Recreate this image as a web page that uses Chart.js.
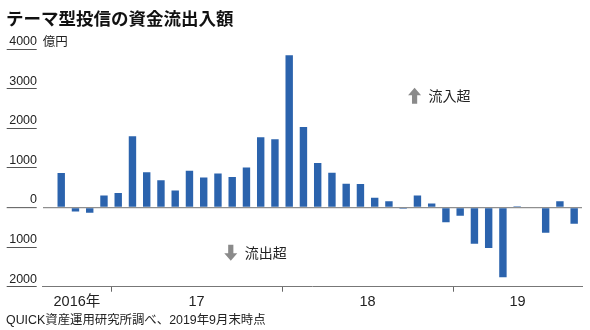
<!DOCTYPE html>
<html><head><meta charset="utf-8">
<script src="https://cdn.jsdelivr.net/npm/chart.js@4.4.1/dist/chart.umd.min.js"></script>
<style>html,body{margin:0;padding:0;background:#fff}#wrap{width:590px;height:330px;position:relative}</style>
</head><body><div id="wrap"><canvas id="c"></canvas></div>
<script>
// ---- data ----
const months = ['2016-09','2016-10','2016-11','2016-12',
  '2017-01','2017-02','2017-03','2017-04','2017-05','2017-06','2017-07','2017-08','2017-09','2017-10','2017-11','2017-12',
  '2018-01','2018-02','2018-03','2018-04','2018-05','2018-06','2018-07','2018-08','2018-09','2018-10','2018-11','2018-12',
  '2019-01','2019-02','2019-03','2019-04','2019-05','2019-06','2019-07','2019-08','2019-09'];
const flows = [870,-100,-130,300,
  365,1800,890,690,430,925,755,860,770,1010,1770,1720,
  3840,2030,1120,875,600,590,245,160,-30,300,100,-370,
  -210,-915,-1020,-1760,30,0,-635,160,-410];
const yearLabels = {'2016':'2016年','2017':'17','2018':'18','2019':'19'};
const yTicks = [-2000,-1000,0,1000,2000,3000,4000];
const titleText = 'テーマ型投信の資金流出入額';
const unitText = '億円';
const sourceText = 'QUICK資産運用研究所調べ、2019年9月末時点';
const inflowText = '流入超';
const outflowText = '流出超';

// ---- derived year ticks ----
const X_MIN = -1.3, X_MAX = 36.55;
const years = months.map(m => m.slice(0,4));
const boundaries = [];
for (let i = 1; i < years.length; i++) if (years[i] !== years[i-1]) boundaries.push(i - 0.5);
const edges = [X_MIN, ...boundaries, X_MAX];
const uniqYears = [...new Set(years)];
const centers = uniqYears.map((yr, k) => ({value: (edges[k] + edges[k+1]) / 2, label: yearLabels[yr]}));
const labelMap = new Map(centers.map(c => [c.value, c.label]));
const boundarySet = new Set(boundaries);

const FAM = "'Liberation Sans Narrow','Liberation Sans','Noto Sans CJK JP',sans-serif";

const notePlugin = {
  id: 'notes',
  afterDatasetsDraw(chart, args, opts) {
    const {ctx, scales: {x, y}} = chart;
    ctx.save();
    opts.items.forEach(n => {
      const px = x.getPixelForValue(n.x), py = y.getPixelForValue(n.y);
      const dir = n.up ? -1 : 1;
      const h = 16, hw = 6.5, sw = 2.6, hh = 7.5;
      const tip = py + dir*h/2, base = py - dir*h/2, neck = tip - dir*hh;
      ctx.beginPath();
      ctx.moveTo(px, tip); ctx.lineTo(px+hw, neck); ctx.lineTo(px+sw, neck); ctx.lineTo(px+sw, base);
      ctx.lineTo(px-sw, base); ctx.lineTo(px-sw, neck); ctx.lineTo(px-hw, neck); ctx.closePath();
      ctx.fillStyle = opts.arrowColor; ctx.fill();
      ctx.fillStyle = opts.color;
      ctx.font = "14px 'Noto Sans CJK JP', sans-serif";
      ctx.textAlign = 'left'; ctx.textBaseline = 'middle';
      ctx.fillText(n.text, px + 14, py);
    });
    ctx.restore();
  }
};

new Chart(document.getElementById('c'), {
  type: 'bar',
  data: {
    datasets: [{
      data: months.map((m, i) => ({x: i, y: flows[i]})),
      backgroundColor: '#2b63ad',
      borderWidth: 0,
      barPercentage: 0.52,
      categoryPercentage: 1
    }]
  },
  options: {
    responsive: true, maintainAspectRatio: false, animation: false,
    layout: {padding: {left: 6, right: 8, top: 0, bottom: 0}},
    plugins: {
      legend: {display: false}, tooltip: {enabled: false},
      title: {display: true, text: titleText, align: 'start', color: '#111',
        font: {family: "'Noto Sans CJK JP',sans-serif", size: 17.5, weight: 'bold'}, padding: {top: 8, bottom: 20}},
      subtitle: {display: true, text: sourceText, position: 'bottom', align: 'start', color: '#222',
        font: {family: FAM, size: 12.4}, padding: {top: 0, bottom: 2}},
      notes: {arrowColor: '#8a8a8a', color: '#222', items: [
        {text: inflowText, up: true, x: 24.8, y: 2820},
        {text: outflowText, up: false, x: 11.9, y: -1140}
      ]}
    },
    scales: {
      x: {
        type: 'linear', min: X_MIN, max: X_MAX, offset: false, bounds: 'data',
        afterBuildTicks: s => { s.ticks = [...boundaries.map(v => ({value: v})), ...centers.map(c => ({value: c.value}))].sort((a,b)=>a.value-b.value); },
        border: {display: true, color: '#777', width: 1},
        grid: {offset: false, drawOnChartArea: false, tickLength: 5,
          tickColor: c => (c.tick && boundarySet.has(c.tick.value)) ? '#666' : 'rgba(0,0,0,0)'},
        ticks: {autoSkip: false, maxRotation: 0, padding: 2, color: '#222',
          font: {family: FAM, size: 14.5},
          callback: v => labelMap.has(v) ? labelMap.get(v) : ''}
      },
      y: {
        position: 'left', weight: 1, min: -2000, max: 4000,
        afterBuildTicks: s => { s.ticks = yTicks.map(v => ({value: v})); },
        afterFit: s => { s.width = 36.7; },
        border: {display: false},
        grid: {
          color: c => (c.tick && c.tick.value === 0) ? '#8f8f8f' : 'rgba(0,0,0,0)',
          lineWidth: c => (c.tick && c.tick.value === 0) ? 1.3 : 1,
          tickColor: '#555', tickWidth: 1, tickLength: 36, tickBorderDash: [30, 20]
        },
        ticks: {padding: -30.3, labelOffset: -7.5, color: '#222', font: {family: FAM, size: 12.5},
          callback: v => String(Math.abs(v))}
      },
      yu: {
        position: 'left', weight: 0, min: -2000, max: 4000,
        afterBuildTicks: s => { s.ticks = [{value: 4000}]; },
        border: {display: false},
        grid: {display: false, drawTicks: false},
        ticks: {mirror: true, padding: 0, labelOffset: -7.5, color: '#222',
          font: {family: "'Noto Sans CJK JP',sans-serif", size: 12.5},
          callback: () => unitText}
      }
    }
  },
  plugins: [notePlugin]
});
</script>
</body></html>
